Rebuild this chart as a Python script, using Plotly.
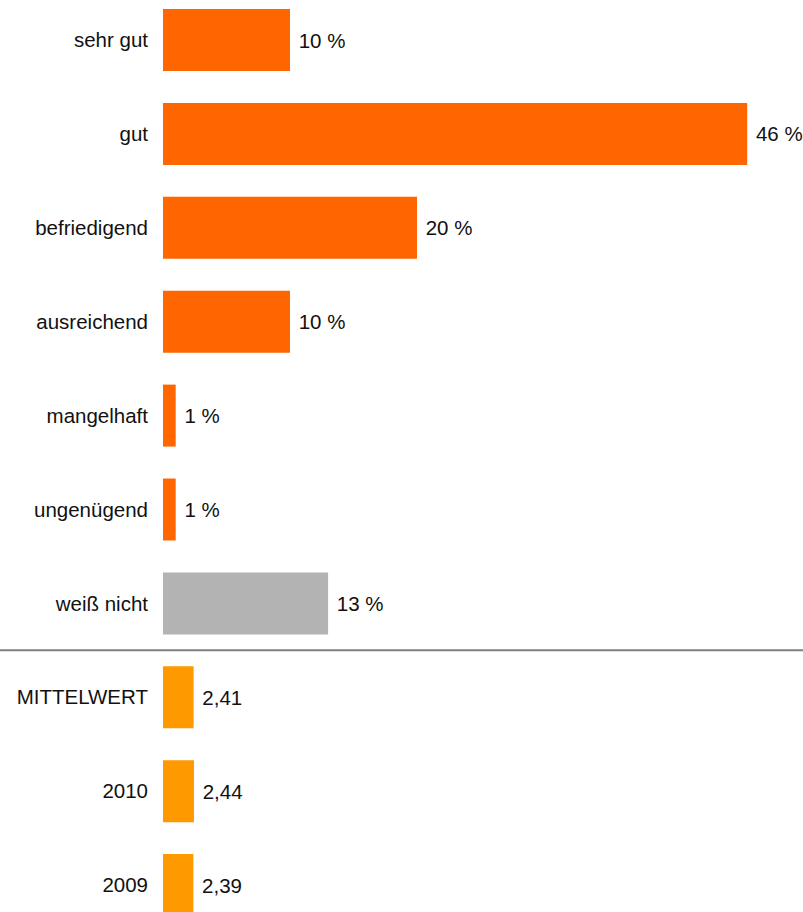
import plotly.graph_objects as go

# Grade distribution (percent) and mean grades
categories = ["sehr gut", "gut", "befriedigend", "ausreichend", "mangelhaft",
              "ungenügend", "weiß nicht", "MITTELWERT", "2010", "2009"]
percent_values = [10, 46, 20, 10, 1, 1, 13]
mean_values = [2.41, 2.44, 2.39]

values = percent_values + mean_values
labels = [f"{v} %" for v in percent_values] + [f"{v:.2f}".replace(".", ",") for v in mean_values]
colors = ["#FF6600"] * 6 + ["#B3B3B3"] + ["#FF9900"] * 3

W, H = 803, 912
left = 163
px_per_unit = 12.7
pitch = 93.9
first_center = 40

idx = list(range(len(categories)))
y_top = -first_center / pitch
y_bottom = (len(categories) - 1) + (H - (first_center + (len(categories) - 1) * pitch)) / pitch

font = dict(family="Liberation Sans, Arial, sans-serif", size=20.5, color="#111111")

fig = go.Figure(go.Bar(
    x=values,
    y=idx,
    orientation="h",
    marker=dict(color=colors, line=dict(width=0)),
    width=0.66,
    text=[" " + t for t in labels],
    textposition="outside",
    textfont=font,
    cliponaxis=False,
    hoverinfo="skip",
))

fig.update_layout(
    width=W, height=H,
    margin=dict(l=left, r=0, t=0, b=0),
    paper_bgcolor="white",
    plot_bgcolor="white",
    showlegend=False,
    xaxis=dict(range=[0, (W - left) / px_per_unit], visible=False, fixedrange=True),
    yaxis=dict(
        range=[y_bottom, y_top],
        tickmode="array",
        tickvals=idx,
        ticktext=categories,
        showgrid=False, zeroline=False, showline=False,
        ticks="", ticklabelstandoff=14,
        tickfont=font,
    ),
    shapes=[dict(
        type="line", xref="paper", yref="y",
        x0=-left / (W - left), x1=1, y0=6.5, y1=6.5,
        line=dict(color="#808080", width=2),
    )],
)

fig.write_html("out.html")
